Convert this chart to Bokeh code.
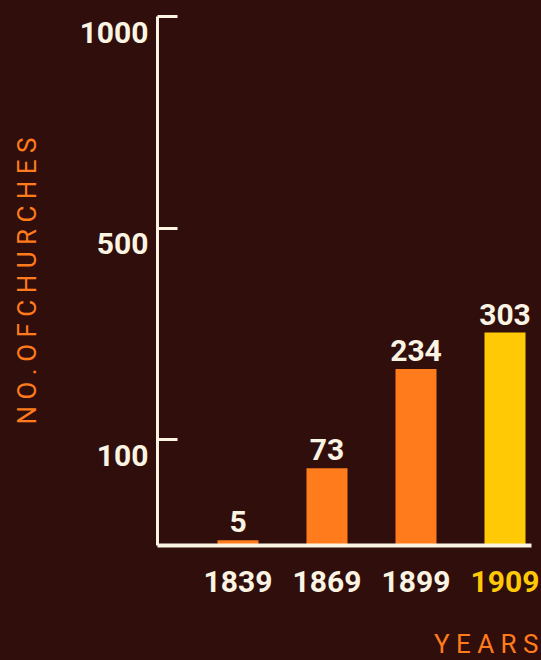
import numpy as np
from bokeh.plotting import figure
from bokeh.core.properties import value
from bokeh.models import (ColumnDataSource, LabelSet, Label, FixedTicker, Range1d, LinearAxis,
                          CustomJSTransform, GlobalInlineStyleSheet)
from bokeh.transform import transform
from bokeh.embed import file_html
from bokeh.resources import INLINE

# ---- data ----
years = ["1839", "1869", "1899", "1909"]
churches = [5, 73, 234, 303]
highlight = ["no", "no", "no", "yes"]
y_ticks = [100, 500, 1000]
y_tick_labels = ["100", "500", "1000"]
y_title = "NO. OF CHURCHES"
x_title = "YEARS"

# piecewise (polylinear) value scale: value knots -> display units
scale_values = [0, 100, 500, 1000]
scale_units = [0, 1, 3, 5]

# ---- style ----
BG = "#300e0c"
CREAM = "#fbf4e2"
ORANGE = "#ff7b1c"
YELLOW = "#ffc905"
NUM_FONT = "Roboto"
TITLE_FONT = "Roboto"


def spaced(s):
    return " ".join(" ".join(w) for w in s.split(" "))


bar_colors = [YELLOW if h == "yes" else ORANGE for h in highlight]
text_colors = [YELLOW if h == "yes" else CREAM for h in highlight]

src = ColumnDataSource(dict(
    x=list(range(len(years))),
    year=years,
    n=churches,
    n_text=[str(v) for v in churches],
    bar_color=bar_colors,
    text_color=text_colors,
))

scale = CustomJSTransform(args=dict(kv=scale_values, kd=scale_units), v_func="""
    return xs.map((x) => {
        for (let i = 1; i < kv.length; i++) {
            if (x <= kv[i]) {
                return kd[i-1] + (x - kv[i-1]) * (kd[i] - kd[i-1]) / (kv[i] - kv[i-1]);
            }
        }
        return kd[kd.length - 1];
    });
""")

# frame covers the whole canvas
x_start, x_end = -2.6685, 3.4101
y_start, y_end = -1.088, 5.156
axis_x = -0.9045        # position of the value axis
base_end = 3.2978       # right end of the baseline

p = figure(width=541, height=660,
           x_range=Range1d(x_start, x_end), y_range=Range1d(y_start, y_end),
           output_backend="svg", toolbar_location=None,
           x_axis_location=None, y_axis_location=None, min_border=0,
           background_fill_color=BG, border_fill_color=BG, outline_line_color=None)
p.stylesheets = [GlobalInlineStyleSheet(css="html, body { background-color: #300e0c; }")]
p.grid.visible = False

# baseline axis
xaxis = LinearAxis(fixed_location=0, bounds=(axis_x, base_end), ticker=FixedTicker(ticks=[]),
                   axis_line_color=CREAM, axis_line_width=4,
                   major_tick_line_color=None, minor_tick_line_color=None)
p.add_layout(xaxis, "below")

# value axis
tick_units = [float(v) for v in np.interp(y_ticks, scale_values, scale_units)]
yaxis = LinearAxis(fixed_location=axis_x, bounds=(0, scale_units[-1]),
                   ticker=FixedTicker(ticks=tick_units),
                   major_label_overrides={t: "" for t in tick_units},
                   axis_line_color=CREAM, axis_line_width=3,
                   major_tick_line_color=CREAM, major_tick_line_width=3,
                   major_tick_in=20, major_tick_out=0, minor_tick_line_color=None,
                   axis_label=spaced(y_title), axis_label_text_font=TITLE_FONT,
                   axis_label_text_font_style="normal", axis_label_text_font_size="26px",
                   axis_label_text_color=ORANGE, axis_label_standoff=116)
p.add_layout(yaxis, "left")

# bars
p.vbar(x="x", width=0.4607, bottom=0, top=transform("n", scale),
       fill_color="bar_color", line_color=None, source=src)

num_style = dict(text_font=value(NUM_FONT), text_font_style=value("bold"),
                 text_font_size=value("30px"), text_baseline=value("alphabetic"))

# value labels
p.add_layout(LabelSet(x="x", y=transform("n", scale), text="n_text", source=src,
                      text_color=value(CREAM), text_align=value("center"),
                      y_offset=8, **num_style))

# year labels
p.add_layout(LabelSet(x="x", y=0, text="year", source=src,
                      text_color="text_color", text_align=value("center"),
                      y_offset=-47, **num_style))

# y tick labels
ysrc = ColumnDataSource(dict(y=tick_units, t=y_tick_labels, x=[axis_x] * len(y_ticks)))
p.add_layout(LabelSet(x="x", y="y", text="t", source=ysrc,
                      text_color=value(CREAM), text_align=value("right"),
                      x_offset=-9, y_offset=-26, **num_style))

# x title
p.add_layout(Label(x=x_end, y=0, text=spaced(x_title),
                   text_font=TITLE_FONT, text_font_size="26px", text_color=ORANGE,
                   text_align="right", text_baseline="alphabetic",
                   x_offset=-3, y_offset=-99))

open("out.html", "w").write(file_html(p, INLINE))
